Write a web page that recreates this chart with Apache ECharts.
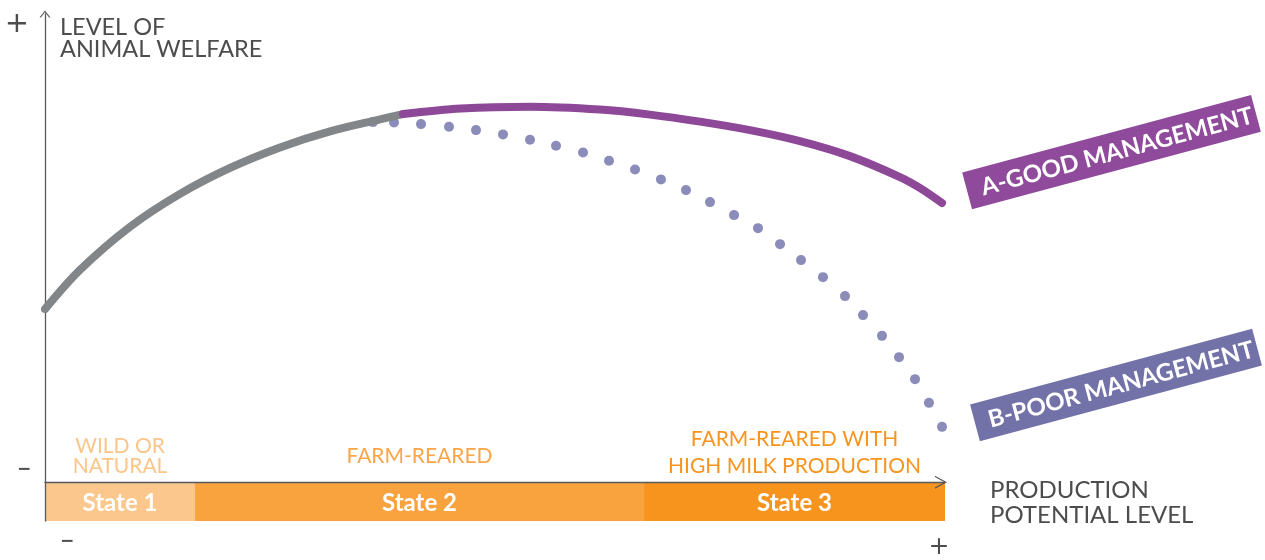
<!DOCTYPE html>
<html>
<head>
<meta charset="utf-8">
<script src="https://cdn.jsdelivr.net/npm/echarts@6/dist/echarts.min.js"></script>
<style>
html,body{margin:0;padding:0;background:#fff;}
#chart{width:1265px;height:560px;}
</style>
</head>
<body>
<div id="chart"></div>
<script>
// ---- data (x: production potential 0-100, y: animal welfare level) ----
const stateNames = ['State 1', 'State 2', 'State 3'];
const stateBounds = [0, 16.67, 66.56, 100];
const stageLabels = ['WILD OR\nNATURAL', 'FARM-REARED', 'FARM-REARED WITH\nHIGH MILK PRODUCTION'];
const baseCurve = [[0,36.96],[3.89,45.33],[9.44,54.52],[15.0,61.57],[20.56,67.12],[26.11,71.50],[31.67,74.92],[37.22,77.48],[39.78,78.62]];
const goodManagement = [[39.78,78.62],[46.22,79.79],[53.89,80.18],[61.67,79.58],[67.22,78.51],[72.78,77.01],[78.33,75.20],[83.89,72.85],[89.44,69.64],[95.0,65.16],[97.33,62.70],[99.67,59.62]];
const poorManagement = [[36.44,76.91],[38.78,76.84],[41.78,76.48],[44.89,75.90],[47.89,75.20],[50.89,74.28],[53.89,73.13],[56.78,71.84],[59.78,70.43],[62.67,68.64],[65.56,66.80],[68.44,64.67],[71.22,62.38],[73.89,59.82],[76.56,57.04],[79.22,54.26],[81.67,50.84],[84.0,47.43],[86.44,43.79],[88.89,39.74],[90.89,35.68],[93.0,31.25],[94.89,26.70],[96.67,22.0],[98.22,16.94],[99.67,11.81]];
const managementLabels = ['A-GOOD MANAGEMENT', 'B-POOR MANAGEMENT'];
const yAxisTitle = 'LEVEL OF\nANIMAL WELFARE';
const xAxisTitle = 'PRODUCTION\nPOTENTIAL LEVEL';

const stateColors = ['#FBC78C', '#F9A33F', '#F7941E'];
const stageColors = ['#FBC58A', '#F9A54A', '#F7941E'];
const stageLineHeights = [20, 20, 27];
const FONT = 'Lato, "Noto Sans", sans-serif';
const SIGN_FONT = '"DejaVu Sans", sans-serif';

const stateAreas = stateNames.map((n, i) => [
  {name: n, xAxis: stateBounds[i], yAxis: -8.3, itemStyle: {color: stateColors[i]}},
  {xAxis: stateBounds[i + 1], yAxis: 0}
]);
const stageAreas = stageLabels.map((n, i) => [
  {name: n, xAxis: stateBounds[i], yAxis: 0.5,
   label: {color: stageColors[i], lineHeight: stageLineHeights[i], offset: [0, i === 2 ? -3 : 0]}},
  {xAxis: stateBounds[i + 1], yAxis: 10.6}
]);

const chart = echarts.init(document.getElementById('chart'), null, {renderer: 'canvas'});
const axisColor = '#58595B';
chart.setOption({
  animation: false,
  grid: {left: 45, right: 320, top: 14, bottom: 39},
  xAxis: {
    type: 'value', min: 0, max: 100, z: 2,
    axisLine: {show: true, onZero: true, lineStyle: {color: axisColor, width: 1.3},
      symbol: ['none', 'path://M0,12 L6.5,0 L13,12 L11.6,12 L6.5,2.6 L1.4,12 Z'], symbolSize: [13, 12], symbolOffset: [0, -4]},
    axisTick: {show: false}, axisLabel: {show: false}, splitLine: {show: false},
    name: xAxisTitle, nameLocation: 'end', nameGap: 45,
    nameTextStyle: {color: '#4D4D4F', fontFamily: FONT, fontSize: 24, lineHeight: 25, align: 'left', verticalAlign: 'top', padding: [-4, 0, 0, 0]}
  },
  yAxis: {
    type: 'value', min: -8.3, max: 100, z: 2,
    axisLine: {show: true, lineStyle: {color: axisColor, width: 1.3},
      symbol: ['none', 'path://M0,7 L5.5,0 L11,7 L9.6,7 L5.5,1.8 L1.4,7 Z'], symbolSize: [11, 7]},
    axisTick: {show: false}, axisLabel: {show: false}, splitLine: {show: false},
    name: yAxisTitle, nameLocation: 'end', nameGap: -2,
    nameTextStyle: {color: '#4D4D4F', fontFamily: FONT, fontSize: 23.5, lineHeight: 22, align: 'left', verticalAlign: 'top', padding: [0, 0, 0, 15]}
  },
  series: [
    {
      type: 'line', data: [], silent: true, z: 0,
      markArea: {silent: true, z: 1, data: stateAreas,
        label: {show: true, position: 'inside', offset: [0, 2], color: '#fff', fontFamily: FONT, fontWeight: 'bold', fontSize: 24}}
    },
    {
      type: 'line', data: [], silent: true, z: 0,
      markArea: {silent: true, z: 1, data: stageAreas, itemStyle: {color: 'rgba(0,0,0,0)'},
        label: {show: true, position: 'inside', fontFamily: FONT, fontSize: 21}}
    },
    {
      type: 'scatter', data: poorManagement, symbol: 'circle', symbolSize: 10, z: 3,
      itemStyle: {color: '#6E6FA8'}, silent: true
    },
    {
      type: 'line', data: baseCurve, smooth: 0.33, showSymbol: false, z: 4,
      lineStyle: {color: '#838688', width: 8, cap: 'round'}, silent: true
    },
    {
      type: 'line', data: goodManagement, smooth: 0.33, showSymbol: false, z: 5,
      lineStyle: {color: '#8E4898', width: 8, cap: 'round'}, silent: true
    }
  ],
  graphic: [
    {type: 'text', x: 17, y: 24, style: {text: '+', font: '29px ' + SIGN_FONT, fill: '#4D4D4F', align: 'center', verticalAlign: 'middle'}},
    {type: 'text', x: 24, y: 470, style: {text: '−', font: 'bold 17px ' + SIGN_FONT, fill: '#4D4D4F', align: 'center', verticalAlign: 'middle'}},
    {type: 'text', x: 67, y: 542, style: {text: '−', font: 'bold 17px ' + SIGN_FONT, fill: '#4D4D4F', align: 'center', verticalAlign: 'middle'}},
    {type: 'text', x: 939, y: 547, style: {text: '+', font: '25px ' + SIGN_FONT, fill: '#4D4D4F', align: 'center', verticalAlign: 'middle'}},
    {type: 'group', x: 1112, y: 152, rotation: 15 * Math.PI / 180, children: [
      {type: 'rect', shape: {x: -150, y: -19, width: 299, height: 38}, style: {fill: '#8F4A9B'}},
      {type: 'text', x: 5, y: 1, style: {text: managementLabels[0], font: 'bold 24px ' + FONT, fill: '#fff', align: 'center', verticalAlign: 'middle'}}
    ]},
    {type: 'group', x: 1116, y: 385, rotation: 15 * Math.PI / 180, children: [
      {type: 'rect', shape: {x: -146, y: -19, width: 292, height: 38}, style: {fill: '#7272A8'}},
      {type: 'text', x: 5, y: 1, style: {text: managementLabels[1], font: 'bold 24px ' + FONT, fill: '#fff', align: 'center', verticalAlign: 'middle'}}
    ]}
  ]
});
</script>
</body>
</html>
